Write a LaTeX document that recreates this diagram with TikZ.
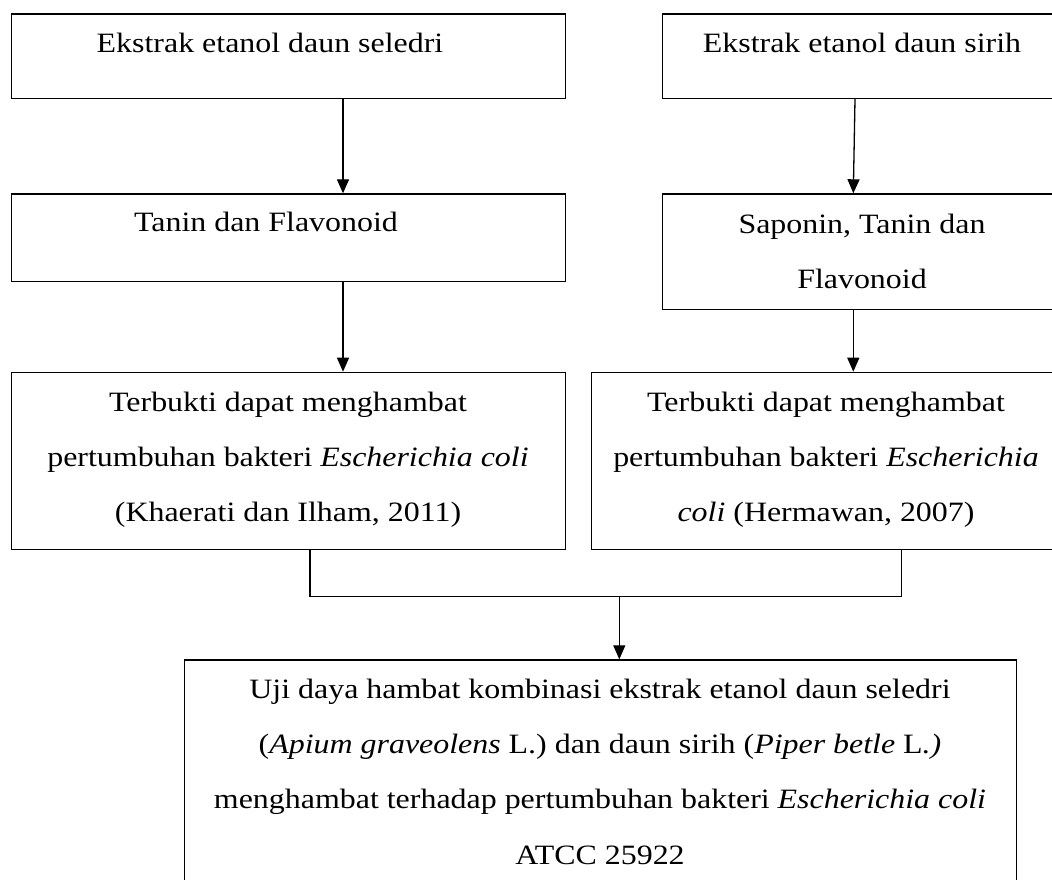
\documentclass[tikz,border=0pt]{standalone}
\usepackage{fontspec}
\setmainfont{Liberation Serif}[FakeStretch=1.14]
\usetikzlibrary{arrows.meta}
\tikzset{
  box/.style={draw, line width=1.4pt, inner sep=0pt, anchor=north west, rectangle},
  txt/.style={anchor=base, inner sep=0pt, font=\fontsize{28}{33}\selectfont},
  conn/.style={line width=1.3pt},
  arr/.style={line width=1.3pt, -{Triangle[width=12pt,length=14pt]}}
}
\begin{document}
\begin{tikzpicture}[x=1pt,y=-1pt]
\useasboundingbox (0,0) rectangle (1052,880);
\clip (0,0) rectangle (1052,880);
% boxes
\node[box, minimum width=554.3pt, minimum height=84.4pt] (b1) at (10.7,13.3) {};
\node[box, minimum width=400.3pt, minimum height=84.4pt] (b2) at (661.7,13.3) {};
\node[box, minimum width=554.3pt, minimum height=87.7pt] (b3) at (10.7,193.3) {};
\node[box, minimum width=400.3pt, minimum height=115.7pt] (b4) at (661.7,193.3) {};
\node[box, minimum width=554.3pt, minimum height=177.3pt] (b5) at (10.7,371.7) {};
\node[box, minimum width=470.3pt, minimum height=177.3pt] (b6) at (590.7,371.7) {};
\node[box, minimum width=832pt, minimum height=240pt] (b7) at (184,659.3) {};
% texts
\node[txt] (t1) at (270,53) {Ekstrak etanol daun seledri};
\node[txt] (t2) at (862,53) {Ekstrak etanol daun sirih};
\node[txt] (t3) at (266,231.7) {Tanin dan Flavonoid};
\node[txt] (t4a) at (862,233.3) {Saponin, Tanin dan};
\node[txt] (t4b) at (862,288.3) {Flavonoid};
\node[txt] (t5a) at (288,411.7) {Terbukti dapat menghambat};
\node[txt] (t5b) at (288,466.7) {pertumbuhan bakteri \textit{Escherichia coli}};
\node[txt] (t5c) at (288,521.7) {(Khaerati dan Ilham, 2011)};
\node[txt] (t6a) at (826,411.7) {Terbukti dapat menghambat};
\node[txt] (t6b) at (826,466.7) {pertumbuhan bakteri \textit{Escherichia}};
\node[txt] (t6c) at (826,521.7) {\textit{coli} (Hermawan, 2007)};
\node[txt] (t7a) at (600,698.3) {Uji daya hambat kombinasi ekstrak etanol daun seledri};
\node[txt] (t7b) at (600,753.3) {(\textit{Apium graveolens} L.) dan daun sirih (\textit{Piper betle} L\textit{.)}};
\node[txt] (t7c) at (600,808.3) {menghambat terhadap pertumbuhan bakteri \textit{Escherichia coli}};
\node[txt] (t7d) at (600,864) {ATCC 25922};
% connectors
\draw[arr] (b1.south -| 343,0) -- (b3.north -| 343,0);
\draw[arr] (b2.south -| 855,0) -- (b4.north -| 853.3,0);
\draw[arr] (b3.south -| 343,0) -- (b5.north -| 343,0);
\draw[arr] (b4.south -| 853.3,0) -- (b6.north -| 853.3,0);
\coordinate (jl) at (310,596.7);
\coordinate (jr) at (901.7,596.7);
\coordinate (jm) at (619.3,596.7);
\draw[conn] (b5.south -| jl) -- (jl) -- (jr) -- (b6.south -| jr);
\draw[arr] (jm) -- (b7.north -| jm);
\end{tikzpicture}
\end{document}
